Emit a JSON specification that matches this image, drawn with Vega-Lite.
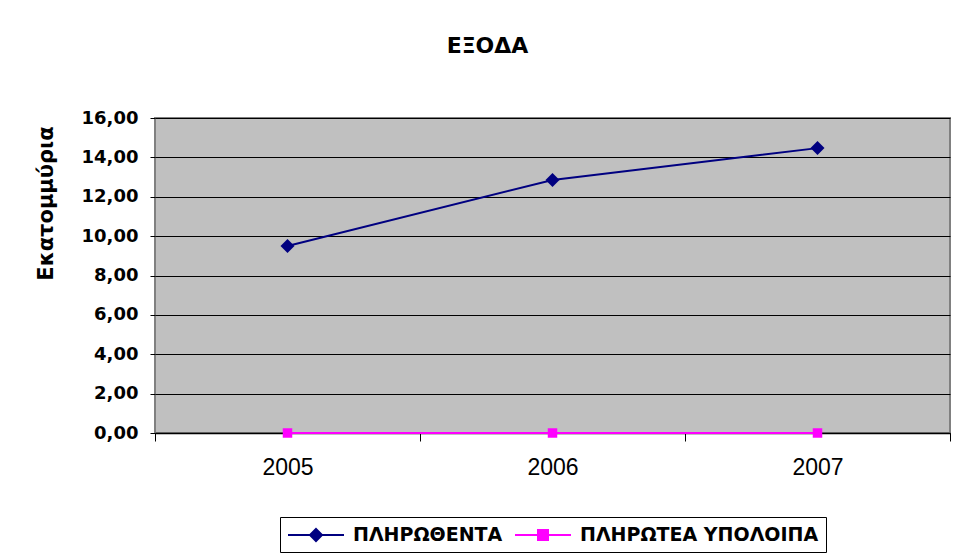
{
  "$schema": "https://vega.github.io/schema/vega-lite/v6.json",
  "autosize": "none",
  "width": 795,
  "height": 315,
  "padding": {"left": 155, "top": 118, "right": 5, "bottom": 121},
  "background": "white",
  "title": {
    "text": "ΕΞΟΔΑ",
    "font": "DejaVu Sans",
    "fontSize": 22,
    "fontWeight": "bold",
    "color": "black",
    "anchor": "middle",
    "dx": -65,
    "offset": 51
  },
  "data": {
    "values": [
      {"year": "2005", "series": "ΠΛΗΡΩΘΕΝΤΑ", "value": 9.5},
      {"year": "2006", "series": "ΠΛΗΡΩΘΕΝΤΑ", "value": 12.85},
      {"year": "2007", "series": "ΠΛΗΡΩΘΕΝΤΑ", "value": 14.47},
      {"year": "2005", "series": "ΠΛΗΡΩΤΕΑ ΥΠΟΛΟΙΠΑ", "value": 0},
      {"year": "2006", "series": "ΠΛΗΡΩΤΕΑ ΥΠΟΛΟΙΠΑ", "value": 0},
      {"year": "2007", "series": "ΠΛΗΡΩΤΕΑ ΥΠΟΛΟΙΠΑ", "value": 0}
    ]
  },
  "encoding": {
    "x": {
      "field": "year",
      "type": "nominal",
      "scale": {"type": "band", "paddingInner": 0, "paddingOuter": 0},
      "axis": {
        "title": null,
        "labelAngle": 0,
        "labelFont": "Liberation Sans",
        "labelFontSize": 23,
        "labelColor": "black",
        "labelPadding": 15,
        "tickBand": "extent",
        "tickSize": 8,
        "tickColor": "black",
        "domainColor": "black",
        "domainWidth": 1.5,
        "grid": false
      }
    },
    "y": {
      "field": "value",
      "type": "quantitative",
      "scale": {"domain": [0, 16], "nice": false},
      "axis": {
        "title": "Εκατομμύρια",
        "values": [0, 2, 4, 6, 8, 10, 12, 14, 16],
        "labelExpr": "replace(format(datum.value, '.2f'), '.', ',')",
        "labelFont": "DejaVu Sans",
        "labelFontSize": 18,
        "labelFontWeight": "bold",
        "labelColor": "black",
        "labelPadding": 12,
        "tickSize": 5,
        "tickColor": "black",
        "domain": false,
        "grid": true,
        "gridColor": "black",
        "gridWidth": 1,
        "titleFont": "DejaVu Sans",
        "titleFontSize": 21,
        "titleFontWeight": "bold",
        "titleColor": "black",
        "titleAngle": 270,
        "titleX": -109,
        "titleY": 85,
        "titleAlign": "center",
        "titleBaseline": "middle"
      }
    },
    "color": {
      "field": "series",
      "type": "nominal",
      "scale": {"domain": ["ΠΛΗΡΩΘΕΝΤΑ", "ΠΛΗΡΩΤΕΑ ΥΠΟΛΟΙΠΑ"], "range": ["#000080", "#FF00FF"]},
      "legend": {
        "title": null,
        "orient": "none",
        "legendX": 125,
        "legendY": 399,
        "direction": "horizontal",
        "strokeColor": "black",
        "padding": 7,
        "labelFont": "DejaVu Sans",
        "labelFontSize": 19,
        "labelFontWeight": "bold",
        "labelColor": "black",
        "labelLimit": 400,
        "labelOffset": 44,
        "columnPadding": 8,
        "symbolSize": 400,
        "symbolStrokeWidth": 2,
        "encode": {
          "symbols": {
            "update": {
              "shape": {"signal": "datum.value === 'ΠΛΗΡΩΘΕΝΤΑ' ? 'M-1,0H4.6M1.8,-0.6L2.4,0L1.8,0.6L1.2,0Z' : 'M-1,0H4.6M1.3,-0.5H2.3V0.5H1.3Z'"},
              "fill": {"scale": "color", "field": "value"},
              "stroke": {"scale": "color", "field": "value"},
              "strokeWidth": {"value": 2},
              "opacity": {"value": 1}
            }
          }
        }
      }
    }
  },
  "layer": [
    {"mark": {"type": "line", "strokeWidth": 2}},
    {
      "mark": {"type": "point", "filled": true, "opacity": 1},
      "encoding": {
        "shape": {"condition": {"test": "datum.series === 'ΠΛΗΡΩΘΕΝΤΑ'", "value": "diamond"}, "value": "square"},
        "size": {"condition": {"test": "datum.series === 'ΠΛΗΡΩΘΕΝΤΑ'", "value": 196}, "value": 90}
      }
    }
  ],
  "config": {
    "view": {"fill": "#C0C0C0", "stroke": "#808080", "strokeWidth": 2}
  }
}
